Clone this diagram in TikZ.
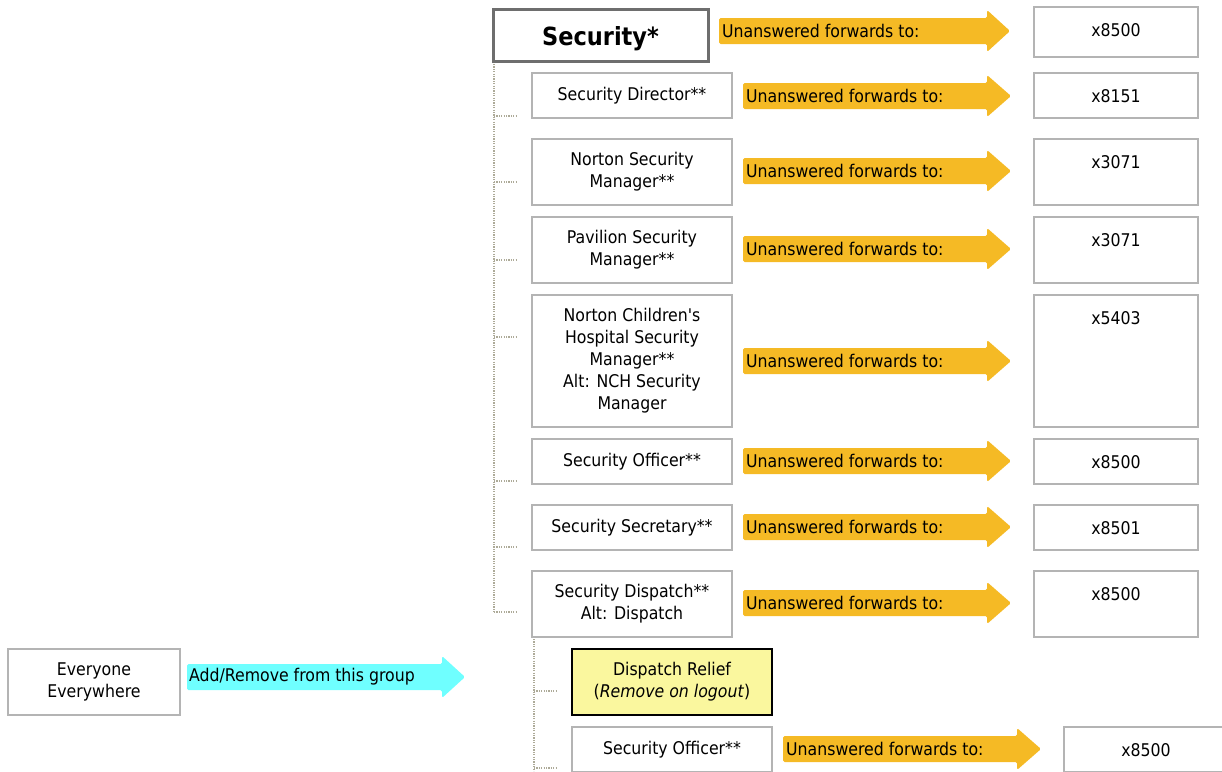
\documentclass[tikz,border=0pt]{standalone}
\usepackage{fontspec}
\setmainfont{DejaVu Sans Condensed}
\usetikzlibrary{calc}
\definecolor{gold}{HTML}{F5BA25}
\definecolor{aqua}{HTML}{6FFFFF}
\definecolor{boxgray}{HTML}{B4B4B4}
\definecolor{dotc}{HTML}{ADAA98}
\definecolor{relief}{HTML}{FAF79E}
\definecolor{topgray}{HTML}{6E6E6E}
\newcommand\fwdarrow[6]{% name, xs, yc, hs, tip, colour
  \fill[#6, rounded corners=1.5pt] (#2,#3-13) -- (#4,#3-13) -- (#4,#3-21) -- (#5,#3) -- (#4,#3+21) -- (#4,#3+13) -- (#2,#3+13) -- cycle;
}
\begin{document}
\begin{tikzpicture}[x=1pt,y=-1pt,
  every node/.style={font=\fontsize{17.5}{22}\selectfont},
  gbox/.style={draw=boxgray, line width=1.5pt, fill=white, align=center, inner sep=2pt},
  lbox/.style={gbox, minimum width=200pt},
  rbox/.style={gbox, minimum width=164pt},
  atext/.style={anchor=west, inner sep=0pt},
  rtext/.style={inner sep=0pt},
  tree/.style={dotc, line width=1.6pt, dash pattern=on 1.2pt off 1.2pt}]
\useasboundingbox (0,0) rectangle (1222,771);

% top node
\node[draw=topgray, line width=3pt, fill=white, minimum width=215pt, minimum height=52pt] (sec) at (600.5,35) {};
\node[inner sep=0pt, font=\fontsize{25}{28}\selectfont\bfseries] (sect) at (600.5,38.5) {Security*};

% left boxes
\node[lbox, minimum height=45pt] (dir) at (632,95.5) {Security Director**};
\node[lbox, minimum height=66pt] (nsm) at (632,172) {Norton Security\\Manager**};
\node[lbox, minimum height=66pt] (psm) at (632,250) {Pavilion Security\\Manager**};
\node[lbox, minimum height=132pt] (nch) at (632,361) {Norton Children\textquotesingle s\\Hospital Security\\Manager**\\Alt: NCH Security\\Manager};
\node[lbox, minimum height=45pt] (off) at (632,461.5) {Security Officer**};
\node[lbox, minimum height=45pt] (secr) at (632,527.5) {Security Secretary**};
\node[lbox, minimum height=66pt] (disp) at (632,604) {Security Dispatch**\\Alt: Dispatch};
\node[draw=black, line width=1.5pt, fill=relief, align=center, minimum width=200pt, minimum height=66pt] (rel) at (672,682) {Dispatch Relief\\(\textit{Remove on logout})};
\node[lbox, minimum height=45pt] (off2) at (672,749.5) {Security Officer**};
\node[gbox, minimum width=172pt, minimum height=66pt] (all) at (94,682) {Everyone\\Everywhere};

% arrows
\fwdarrow{a1}{719}{31}{987}{1010}{gold}
\node[atext] (t1) at (722,31) {Unanswered forwards to:};
\fwdarrow{a2}{743}{96}{987}{1011}{gold}
\node[atext] (t2) at (746,96) {Unanswered forwards to:};
\fwdarrow{a3}{743}{171}{987}{1011}{gold}
\node[atext] (t3) at (746,171) {Unanswered forwards to:};
\fwdarrow{a4}{743}{249}{987}{1011}{gold}
\node[atext] (t4) at (746,249) {Unanswered forwards to:};
\fwdarrow{a5}{743}{361}{987}{1011}{gold}
\node[atext] (t5) at (746,361) {Unanswered forwards to:};
\fwdarrow{a6}{743}{461}{987}{1011}{gold}
\node[atext] (t6) at (746,461) {Unanswered forwards to:};
\fwdarrow{a7}{743}{527}{987}{1011}{gold}
\node[atext] (t7) at (746,527) {Unanswered forwards to:};
\fwdarrow{a8}{743}{603}{987}{1011}{gold}
\node[atext] (t8) at (746,603) {Unanswered forwards to:};
\fwdarrow{a9}{783}{749}{1017}{1041}{gold}
\node[atext] (t9) at (786,749) {Unanswered forwards to:};
\fwdarrow{a10}{187}{677}{442}{465}{aqua}
\node[atext] (t10) at (189,677) {Add/Remove from this group};

% right boxes
\node[rbox, minimum height=50pt] (r1) at (1116,32) {};
\node[rtext] (v1) at (1116,30) {x8500};
\node[rbox, minimum height=45pt] (r2) at (1116,95.5) {};
\node[rtext] (v2) at (1116,96) {x8151};
\node[rbox, minimum height=66pt] (r3) at (1116,172) {};
\node[rtext] (v3) at (1116,162) {x3071};
\node[rbox, minimum height=66pt] (r4) at (1116,250) {};
\node[rtext] (v4) at (1116,240) {x3071};
\node[rbox, minimum height=132pt] (r5) at (1116,361) {};
\node[rtext] (v5) at (1116,318) {x5403};
\node[rbox, minimum height=45pt] (r6) at (1116,461.5) {};
\node[rtext] (v6) at (1116,462) {x8500};
\node[rbox, minimum height=45pt] (r7) at (1116,527.5) {};
\node[rtext] (v7) at (1116,528) {x8501};
\node[rbox, minimum height=66pt] (r8) at (1116,604) {};
\node[rtext] (v8) at (1116,594) {x8500};
\node[rbox, minimum height=45pt] (r9) at (1146,749.5) {};
\node[rtext] (v9) at (1146,750) {x8500};

% tree connectors
\coordinate (trunk) at (494,64);
\draw[tree] (trunk) -- (494,612);
\foreach \yy in {116, 182, 260, 337, 481, 547, 612}
  \draw[tree] (494,\yy) -- (516,\yy);
\coordinate (trunk2) at (534,639);
\draw[tree] (trunk2) -- (534,771);
\foreach \yy in {691, 768}
  \draw[tree] (534,\yy) -- (556,\yy);
\end{tikzpicture}
\end{document}
